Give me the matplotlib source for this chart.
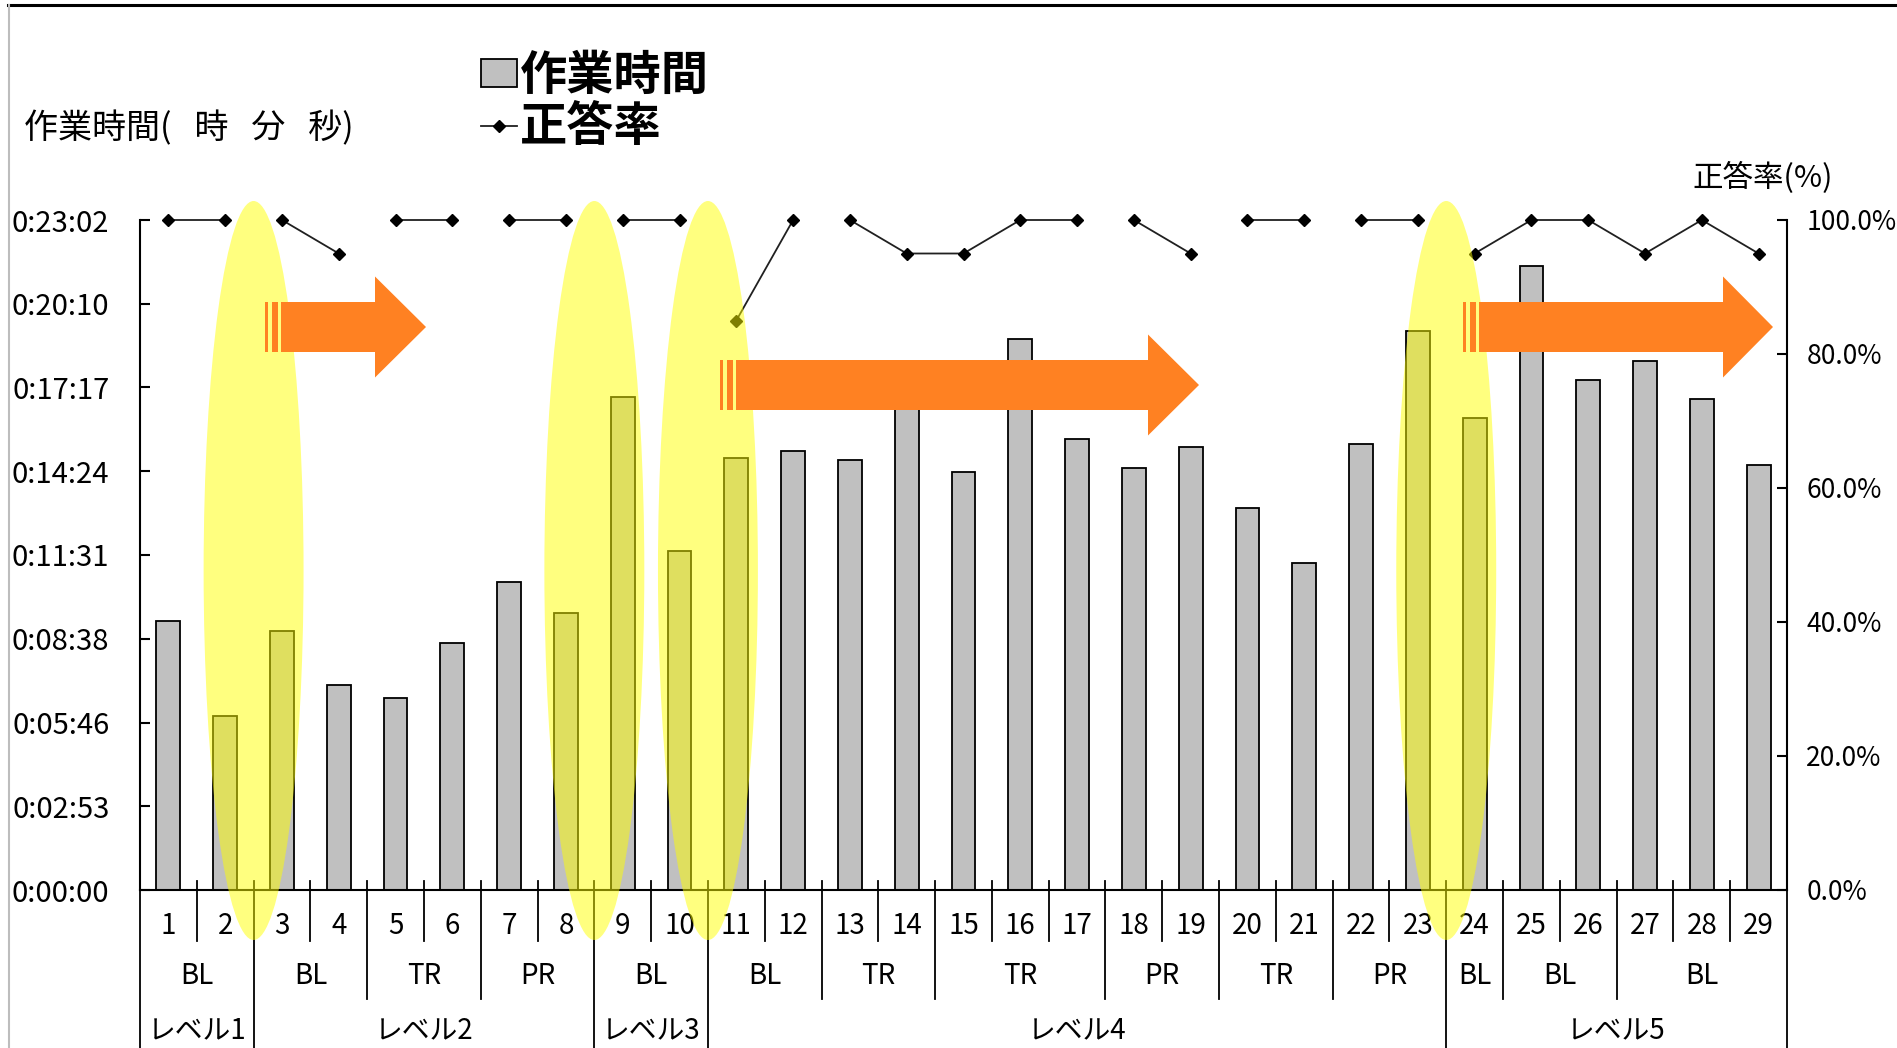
import numpy as np
import matplotlib
matplotlib.use("Agg")
import matplotlib.pyplot as plt
from matplotlib.patches import Ellipse, Polygon, Rectangle
from matplotlib.lines import Line2D
from matplotlib.ticker import FuncFormatter, FixedLocator
from matplotlib.font_manager import FontProperties
import matplotlib.transforms as mtransforms

plt.rcParams['font.family'] = ['Noto Sans CJK JP', 'DejaVu Sans']

# ---------------- data ----------------
trials = list(range(1, 30))
work_seconds = [554, 359, 534, 424, 397, 509, 636, 571, 1018, 699,
                891, 906, 888, 1040, 863, 1136, 930, 871, 915, 789,
                674, 921, 1153, 973, 1287, 1052, 1091, 1013, 876]
accuracy = [100, 100, 100, 95, 100, 100, 100, 100, 100, 100,
            85, 100, 100, 95, 95, 100, 100, 100, 95, 100,
            100, 100, 100, 95, 100, 100, 95, 100, 95]
line_segment = [1, 1, 2, 2, 3, 3, 4, 4, 5, 5, 6, 6, 7, 7, 7, 7, 7, 8, 8,
                9, 9, 10, 10, 11, 11, 11, 11, 11, 11]
task_groups = ["BL", "BL", "TR", "PR", "BL", "BL", "TR", "TR", "PR", "TR",
               "PR", "BL", "BL", "BL"]
task_group_sizes = [2, 2, 2, 2, 2, 2, 2, 3, 2, 2, 2, 1, 2, 3]
levels = ["レベル1", "レベル2", "レベル3", "レベル4", "レベル5"]
level_sizes = [2, 6, 2, 13, 6]
time_max = 1382.4          # 0:23:02 (0.016 day)
acc_ticks = [0, 20, 40, 60, 80, 100]
legend_labels = ["作業時間", "正答率"]
left_title = "作業時間(   時   分   秒)"
right_title = "正答率(%)"

# ---------------- layout ----------------
W, H = 1897, 1048
fig = plt.figure(figsize=(W / 100, H / 100), dpi=100)
fig.patch.set_facecolor('white')
L, R, T, B = 140, 1787, 220, 890
ax = fig.add_axes([L / W, 1 - B / H, (R - L) / W, (B - T) / H])

def yaf(py):
    return (B - py) / (B - T)

def xaf(px):
    return (px - L) / (R - L)

# bars
bars = ax.bar(trials, work_seconds, width=0.42, color='#C0C0C0',
              edgecolor='black', linewidth=1.3, zorder=2)
ax.set_xlim(0.5, len(trials) + 0.5)
ax.set_ylim(0, time_max)
ax.yaxis.set_major_locator(FixedLocator(np.linspace(0, time_max, 9)))

def hms(v, pos):
    s = int(round(v))
    return f"{s // 3600}:{(s % 3600) // 60:02d}:{s % 60:02d}"

ax.yaxis.set_major_formatter(FuncFormatter(hms))
ax.tick_params(axis='y', direction='in', length=7, width=1.5, pad=22,
               labelsize=21)
ax.set_xticks([])
for s in ['top', 'right']:
    ax.spines[s].set_visible(False)
for s in ['left', 'bottom']:
    ax.spines[s].set_linewidth(1.5)

# accuracy axis
ax2 = ax.twinx()
ax2.set_ylim(0, 100)
ax2.yaxis.set_major_locator(FixedLocator(acc_ticks))
ax2.yaxis.set_major_formatter(FuncFormatter(lambda v, p: f"{v:.1f}%"))
ax2.tick_params(axis='y', direction='in', length=7, width=1.5, pad=14,
                labelsize=19)
for s in ['top', 'left', 'bottom']:
    ax2.spines[s].set_visible(False)
ax2.spines['right'].set_linewidth(1.5)

xs, ys = [], []
for i, (t, a, sg) in enumerate(zip(trials, accuracy, line_segment)):
    if i > 0 and sg != line_segment[i - 1]:
        xs.append(np.nan)
        ys.append(np.nan)
    xs.append(t)
    ys.append(a)
acc_line, = ax2.plot(xs, ys, color='#202020', lw=1.3, marker='D', ms=6.5,
                     mfc='black', mec='black', zorder=3, clip_on=False)

# multi-level category axis
trans = mtransforms.blended_transform_factory(ax.transData, ax.transAxes)
for t in trials:
    ax.text(t, yaf(926), str(t), ha='center', va='center', fontsize=20,
            transform=trans, clip_on=False)

group_bounds = set(np.cumsum([0] + task_group_sizes))
level_bounds = set(np.cumsum([0] + level_sizes))
for k in range(0, len(trials) + 1):
    bx = k + 0.5
    if k in level_bounds:
        y1 = yaf(1060)
    elif k in group_bounds:
        y1 = yaf(999)
    else:
        y1 = yaf(941)
    ax.add_line(Line2D([bx, bx], [yaf(881), y1], transform=trans,
                       color='black', lw=1.3, clip_on=False))

start = 0
for g, n in zip(task_groups, task_group_sizes):
    ax.text(start + 0.5 + n / 2, yaf(976), g, ha='center', va='center',
            fontsize=20, transform=trans, clip_on=False)
    start += n
start = 0
for lv, n in zip(levels, level_sizes):
    ax.text(start + 0.5 + n / 2, yaf(1030), lv, ha='center', va='center',
            fontsize=20, transform=trans, clip_on=False)
    start += n

# highlight ellipses at level boundaries
trans2 = mtransforms.blended_transform_factory(ax2.transData, ax2.transAxes)
for b in np.cumsum(level_sizes)[:-1]:
    e = Ellipse((b + 0.5, yaf(570.5)), width=1.76, height=739 / (B - T),
                transform=trans2, facecolor='#FFFF00', alpha=0.5,
                edgecolor='none', zorder=5, clip_on=False)
    ax2.add_patch(e)

# striped orange arrows (pixel layout)
arrow_specs = [(265, 375, 426, 327), (720, 1148, 1199, 385),
               (1463, 1723, 1773, 327)]
orange = '#FF8122'
for x0, xh, xt, yc in arrow_specs:
    for a, bnd in [(x0, x0 + 3), (x0 + 7, x0 + 13)]:
        ax2.add_patch(Rectangle((xaf(a), yaf(yc + 25)), xaf(bnd) - xaf(a),
                                yaf(yc - 25) - yaf(yc + 25),
                                transform=ax2.transAxes, facecolor=orange,
                                edgecolor='none', zorder=6, clip_on=False))
    pts = [(x0 + 16, yc - 25), (xh, yc - 25), (xh, yc - 50.5), (xt, yc),
           (xh, yc + 50.5), (xh, yc + 25), (x0 + 16, yc + 25)]
    ax2.add_patch(Polygon([(xaf(px), yaf(py)) for px, py in pts],
                          closed=True, transform=ax2.transAxes,
                          facecolor=orange, edgecolor='none', zorder=6,
                          clip_on=False))

# titles
fig.text(24 / W, 1 - 129 / H, left_title, fontsize=24.5, ha='left',
         va='center')
fig.text(1763 / W, 1 - 178 / H, right_title, fontsize=22, ha='center',
         va='center')

# legend
leg = fig.legend([bars, acc_line], legend_labels, loc='upper left',
                 bbox_to_anchor=(481 / W, 1 - 52 / H), frameon=False,
                 borderpad=0, borderaxespad=0, handlelength=0.77,
                 handleheight=0.53, handletextpad=0.05, labelspacing=0.07,
                 prop=FontProperties(family=['Noto Sans CJK JP'],
                                     weight='bold', size=34))

# frame lines of the chart object
fig.add_artist(Line2D([8 / W, 1], [1 - 5 / H, 1 - 5 / H],
                      transform=fig.transFigure, color='black', lw=2.2))
fig.add_artist(Line2D([8.5 / W, 8.5 / W], [0, 1 - 5 / H],
                      transform=fig.transFigure, color='#BDBDBD', lw=1.5))

fig.savefig('out.png', dpi=100, facecolor='white')
